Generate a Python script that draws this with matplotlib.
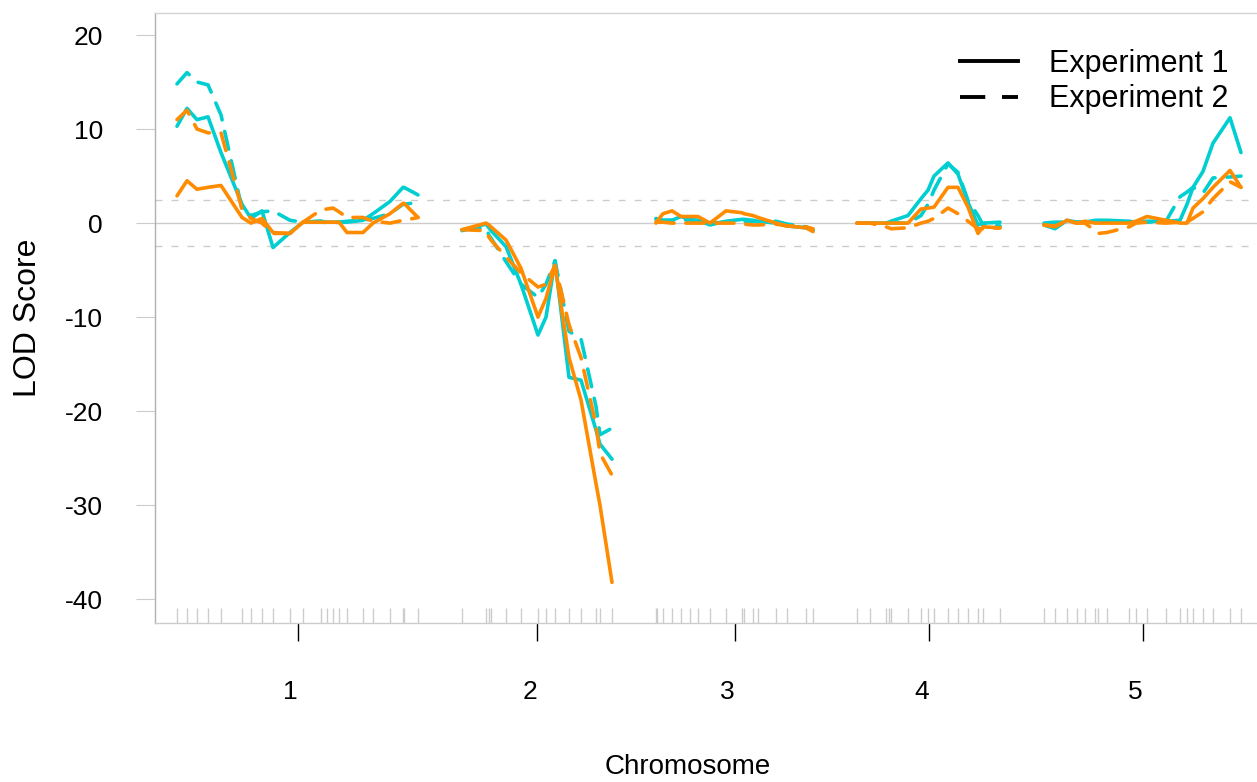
import numpy as np
import matplotlib
matplotlib.use('Agg')
import matplotlib.pyplot as plt
from matplotlib.lines import Line2D
import matplotlib.transforms as mtransforms

plt.rcParams['font.family'] = ['Liberation Sans', 'DejaVu Sans']

# ---------------- data ----------------
chromosomes = ['1', '2', '3', '4', '5']
chrom_lengths = [241, 150, 157, 143, 197]
chrom_gap = 44

# marker positions (cM) within each chromosome
chr1_pos = [0, 10, 20, 31, 44, 65, 74, 85, 96, 113, 126, 144, 150, 156, 162, 170, 186, 196, 213, 226, 227, 241]
chr2_pos = [0, 24, 27, 29, 44, 59, 76, 84, 93, 107, 119, 134, 138, 150]
chr3_pos = [0, 1, 7, 16, 25, 34, 42, 54, 70, 86, 88, 97, 102, 120, 131, 150, 157]
chr4_pos = [0, 13, 29, 32, 34, 51, 64, 71, 77, 91, 101, 111, 121, 126, 143]
chr5_pos = [0, 11, 23, 33, 41, 51, 54, 63, 85, 92, 103, 122, 136, 143, 149, 159, 169, 186, 197]

# LOD scores: trait A (cyan) and trait B (orange), experiment 1 / experiment 2
chr1_A_exp1 = [10.3, 12.2, 11.0, 11.3, 7.5, 2.0, 0.5, 1.3, -2.6, -1.0, 0.1, 0.2, 0.1, 0.1, 0.1, 0.1, 0.3, 1.0, 2.3, 3.8, 3.8, 3.0]
chr1_B_exp1 = [2.9, 4.5, 3.6, 3.8, 4.0, 0.6, 0.0, 0.5, -1.0, -1.1, 0.1, 0.1, 0.1, 0.1, 0.1, -1.0, -1.0, 0.0, 1.0, 2.1, 2.1, 0.6]
chr1_A_exp2 = [14.8, 16.0, 15.0, 14.7, 11.5, 1.5, 0.8, 1.2, 1.3, 0.3, 0.1, 0.2, 0.0, 0.0, 0.1, 0.2, 0.3, 0.5, 1.0, 2.0, 2.0, 2.2]
chr1_B_exp2 = [11.0, 12.0, 10.0, 9.6, 9.6, 1.5, 0.5, 0.0, -1.1, -1.1, 0.1, 1.4, 1.5, 1.6, 1.2, 0.6, 0.6, 0.2, 0.0, 0.3, 0.3, 0.6]

chr2_A_exp1 = [-0.8, -0.1, -0.5, -0.8, -2.5, -6.5, -11.9, -10.0, -4.0, -16.4, -16.7, -22.0, -23.5, -25.1]
chr2_B_exp1 = [-0.7, 0.0, -0.2, -0.4, -1.8, -4.8, -10.0, -8.0, -4.5, -14.3, -18.8, -27.7, -30.0, -38.2]
chr2_A_exp2 = [-0.7, -0.5, -1.3, -1.6, -4.1, -6.5, -7.9, -6.5, -4.0, -11.5, -12.3, -19.5, -22.5, -21.8]
chr2_B_exp2 = [-0.7, -0.8, -1.5, -1.8, -3.6, -5.3, -6.8, -6.5, -4.5, -10.8, -14.3, -21.5, -24.5, -26.8]

chr3_A_exp1 = [0.5, 0.4, 0.3, 0.3, 0.7, 0.4, 0.3, -0.2, 0.2, 0.4, 0.4, 0.3, 0.2, 0.0, -0.3, -0.5, -0.8]
chr3_B_exp1 = [0.0, 0.2, 1.0, 1.3, 0.7, 0.7, 0.7, 0.0, 1.3, 1.1, 1.0, 0.8, 0.6, 0.0, -0.3, -0.5, -0.9]
chr3_A_exp2 = [0.4, 0.4, 0.3, 0.3, 0.5, 0.2, 0.1, 0.0, 0.1, 0.2, 0.2, 0.2, 0.1, 0.2, -0.1, -0.4, -0.7]
chr3_B_exp2 = [0.1, 0.1, 0.1, 0.0, 0.0, 0.0, 0.0, 0.0, 0.0, 0.0, -0.1, -0.2, -0.2, -0.1, -0.3, -0.4, -0.6]

chr4_A_exp1 = [0.0, 0.0, 0.0, 0.1, 0.2, 0.8, 2.6, 3.5, 5.0, 6.4, 5.2, 2.2, -0.2, 0.0, 0.1]
chr4_B_exp1 = [0.0, 0.0, 0.0, 0.0, 0.0, 0.0, 1.5, 1.6, 1.7, 3.8, 3.8, 1.7, -1.1, -0.4, -0.5]
chr4_A_exp2 = [0.0, 0.0, 0.0, 0.0, 0.0, 0.0, 0.8, 2.0, 3.5, 6.3, 5.4, 2.4, 0.8, -0.2, -0.3]
chr4_B_exp2 = [0.0, 0.0, -0.4, -0.5, -0.6, -0.5, 0.0, 0.2, 0.5, 1.6, 1.0, 0.2, -0.6, -0.6, -0.5]

chr5_A_exp1 = [-0.2, -0.6, 0.3, 0.1, 0.1, 0.3, 0.3, 0.3, 0.2, 0.1, 0.2, 0.2, 0.3, 2.0, 3.8, 5.5, 8.5, 11.2, 7.5]
chr5_B_exp1 = [-0.2, -0.4, 0.3, 0.0, 0.2, 0.0, 0.0, 0.0, 0.0, 0.2, 0.7, 0.3, 0.0, 0.0, 1.6, 2.6, 3.8, 5.6, 3.8]
chr5_A_exp2 = [0.0, 0.1, 0.1, 0.1, 0.1, 0.1, 0.1, 0.1, 0.1, 0.1, 0.1, 0.2, 2.8, 3.3, 3.8, 3.2, 4.8, 4.9, 5.0]
chr5_B_exp2 = [-0.2, -0.3, 0.2, 0.0, 0.0, -0.8, -1.1, -1.0, -0.4, 0.0, 0.1, 0.0, 0.1, 0.1, 0.5, 1.2, 2.6, 4.4, 3.8]

lod_threshold = 2.45
legend_labels = ['Experiment 1', 'Experiment 2']
y_ticks = [20, 10, 0, -10, -20, -30, -40]

positions = [chr1_pos, chr2_pos, chr3_pos, chr4_pos, chr5_pos]
A_exp1 = [chr1_A_exp1, chr2_A_exp1, chr3_A_exp1, chr4_A_exp1, chr5_A_exp1]
B_exp1 = [chr1_B_exp1, chr2_B_exp1, chr3_B_exp1, chr4_B_exp1, chr5_B_exp1]
A_exp2 = [chr1_A_exp2, chr2_A_exp2, chr3_A_exp2, chr4_A_exp2, chr5_A_exp2]
B_exp2 = [chr1_B_exp2, chr2_B_exp2, chr3_B_exp2, chr4_B_exp2, chr5_B_exp2]

# ---------------- styling ----------------
CYAN = '#00CED1'
ORANGE = '#FF8C00'
LW = 2.6
DASH = (5, 3.3)

fig = plt.figure(figsize=(12.57, 7.82), dpi=100)
ax = fig.add_axes([155 / 1257, 1 - 623 / 782, 1 - 155 / 1257, (623 - 13) / 782])

offsets = []
off = 0
for L in chrom_lengths:
    offsets.append(off)
    off += L + chrom_gap
total = offsets[-1] + chrom_lengths[-1]

# threshold / zero lines
ax.axhline(0, color='#cccccc', lw=1, zorder=1)
for t in (lod_threshold, -lod_threshold):
    ax.axhline(t, color='#cccccc', lw=1, dashes=(5, 6.5), zorder=1)

for i in range(len(chromosomes)):
    x = np.array(positions[i]) + offsets[i]
    ax.plot(x, A_exp1[i], color=CYAN, lw=LW, solid_capstyle='round', solid_joinstyle='round', zorder=3)
    ax.plot(x, A_exp2[i], color=CYAN, lw=LW, dashes=DASH, dash_capstyle='round', zorder=3)
    ax.plot(x, B_exp2[i], color=ORANGE, lw=LW, dashes=DASH, dash_capstyle='round', zorder=4)
    ax.plot(x, B_exp1[i], color=ORANGE, lw=LW, solid_capstyle='round', solid_joinstyle='round', zorder=4)
    # rug of marker positions
    ax.vlines(x, 0, 15 / 610, transform=ax.get_xaxis_transform(), color='#cccccc', lw=1, zorder=2)

ax.set_xlim(-22, total + 16)
ax.set_ylim(-42.52, 22.34)

# spines
ax.spines['right'].set_visible(False)
ax.spines['left'].set_color('#b0b0b0')
ax.spines['top'].set_color('#d4d4d4')
ax.spines['bottom'].set_color('#cccccc')
for s in ax.spines.values():
    s.set_linewidth(1)

# y ticks
ax.set_yticks(y_ticks)
ax.set_yticklabels([str(v) for v in y_ticks])
ax.tick_params(axis='y', direction='out', length=13.5, width=0.8, color='#cccccc',
               labelsize=19, pad=24)

# x ticks at chromosome centres
centres = [offsets[i] + chrom_lengths[i] / 2 for i in range(len(chromosomes))]
ax.set_xticks(centres)
ax.set_xticklabels(chromosomes)
ax.tick_params(axis='x', direction='out', length=13, width=1, labelsize=19, pad=28)
for i, tl in enumerate(ax.xaxis.get_ticklines()):
    if i // 2 >= 3:
        tl.set_color('#cccccc')
shift = mtransforms.ScaledTranslation(-7 / 100, 0, fig.dpi_scale_trans)
for lbl in ax.get_xticklabels():
    lbl.set_transform(lbl.get_transform() + shift)

fig.text(688 / 1257, 1 - 767 / 782, 'Chromosome', fontsize=20, ha='center', va='center')
fig.text(28 / 1257, 1 - 318 / 782, 'LOD Score', fontsize=23, ha='center', va='center', rotation=90)

handles = [Line2D([], [], color='black', lw=2.8),
           Line2D([], [], color='black', lw=2.8, dashes=(6.5, 4.3))]
leg = ax.legend(handles, legend_labels, loc='upper left', frameon=False,
                bbox_to_anchor=(960 / 1257, 1 - 49 / 782), bbox_transform=fig.transFigure,
                fontsize=22, handlelength=1.9, handletextpad=1.0, labelspacing=0.17,
                borderpad=0, borderaxespad=0)

fig.savefig('out.png', dpi=100)
